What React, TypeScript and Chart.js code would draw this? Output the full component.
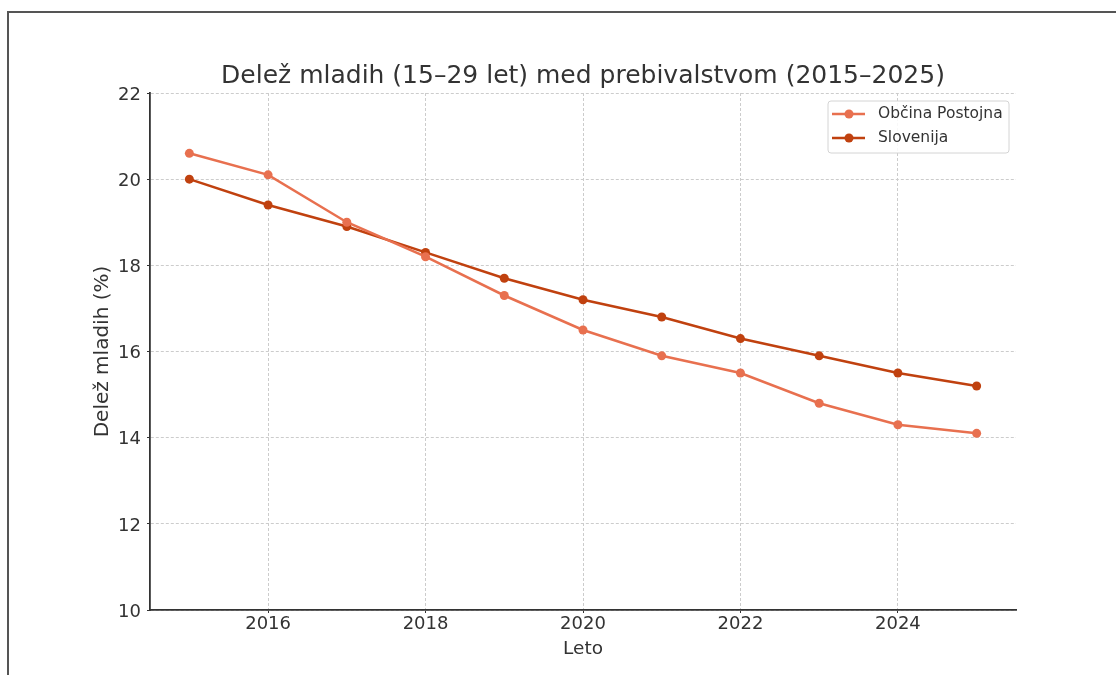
import React, { useEffect, useRef } from "react";
import { Chart, registerables } from "chart.js";

Chart.register(...registerables);

const years = [2015, 2016, 2017, 2018, 2019, 2020, 2021, 2022, 2023, 2024, 2025];
const postojna = [20.6, 20.1, 19.0, 18.2, 17.3, 16.5, 15.9, 15.5, 14.8, 14.3, 14.1];
const slovenija = [20.0, 19.4, 18.9, 18.3, 17.7, 17.2, 16.8, 16.3, 15.9, 15.5, 15.2];
const xTicks = [2016, 2018, 2020, 2022, 2024];
const seriesLabels = ["Občina Postojna", "Slovenija"];
const titleText = "Delež mladih (15–29 let) med prebivalstvom (2015–2025)";
const xTitle = "Leto";
const yTitle = "Delež mladih (%)";

const FONT = "'DejaVu Sans', sans-serif";
const C1 = "#e8704f";
const C2 = "#c0410f";

const titlePlugin = {
  id: "mplTitle",
  afterDraw(chart: any) {
    const { ctx, chartArea } = chart;
    ctx.save();
    ctx.fillStyle = "#333";
    ctx.font = `25px ${FONT}`;
    ctx.textAlign = "center";
    ctx.textBaseline = "middle";
    ctx.fillText(titleText, (chartArea.left + chartArea.right) / 2, chartArea.top - 17);
    ctx.restore();
  },
};

const legendPlugin = {
  id: "mplLegend",
  afterDraw(chart: any) {
    const { ctx, chartArea } = chart;
    const w = 181;
    const h = 52;
    const x = chartArea.right - 7 - w;
    const y = chartArea.top + 8;
    ctx.save();
    ctx.beginPath();
    const r = 3;
    ctx.moveTo(x + r, y);
    ctx.arcTo(x + w, y, x + w, y + h, r);
    ctx.arcTo(x + w, y + h, x, y + h, r);
    ctx.arcTo(x, y + h, x, y, r);
    ctx.arcTo(x, y, x + w, y, r);
    ctx.closePath();
    ctx.fillStyle = "rgba(255,255,255,0.85)";
    ctx.fill();
    ctx.strokeStyle = "#d4d4d4";
    ctx.lineWidth = 1;
    ctx.stroke();
    chart.data.datasets.forEach((ds: any, i: number) => {
      const cy = y + 13 + i * 24;
      ctx.strokeStyle = ds.borderColor;
      ctx.lineWidth = 2.5;
      ctx.beginPath();
      ctx.moveTo(x + 4, cy);
      ctx.lineTo(x + 37, cy);
      ctx.stroke();
      ctx.fillStyle = ds.backgroundColor;
      ctx.beginPath();
      ctx.arc(x + 21, cy, 4.5, 0, Math.PI * 2);
      ctx.fill();
      ctx.fillStyle = "#333";
      ctx.font = `15.5px ${FONT}`;
      ctx.textBaseline = "middle";
      ctx.textAlign = "left";
      ctx.fillText(ds.label, x + 50, cy);
    });
    ctx.restore();
  },
};

export default function App() {
  const ref = useRef<HTMLCanvasElement | null>(null);
  useEffect(() => {
    if (!ref.current) return;
    const mk = (vals: number[]) => years.map((yr, i) => ({ x: yr, y: vals[i] }));
    const ds = (label: string, vals: number[], color: string) => ({
      label,
      data: mk(vals),
      borderColor: color,
      backgroundColor: color,
      borderWidth: 2.5,
      pointRadius: 4.5,
      pointHoverRadius: 4.5,
      pointBorderWidth: 0,
    });
    const chart = new Chart(ref.current, {
      type: "line",
      data: {
        datasets: [ds(seriesLabels[0], postojna, C1), ds(seriesLabels[1], slovenija, C2)],
      },
      options: {
        responsive: false,
        animation: false,
        layout: { padding: { left: 0, right: 100, top: 93, bottom: 0 } },
        plugins: {
          legend: { display: false },
          tooltip: { enabled: false },
          title: { display: false },
        },
        scales: {
          x: {
            type: "linear",
            min: 2014.5,
            max: 2025.5,
            afterBuildTicks: (s: any) => {
              s.ticks = xTicks.map((v) => ({ value: v }));
            },
            afterFit: (s: any) => {
              s.height = 65;
            },
            ticks: {
              color: "#333",
              font: { family: FONT, size: 18 },
              padding: 1,
              maxRotation: 0,
              callback: (v: any) => String(v),
            },
            grid: {
              color: "#cccccc",
              tickColor: "#333",
              tickLength: 3,
            },
            border: { display: true, color: "#333", width: 1.8, dash: [3, 2] },
            title: {
              display: true,
              text: xTitle,
              color: "#333",
              font: { family: FONT, size: 18.5 },
              padding: { top: 0, bottom: 15 },
            },
          },
          y: {
            min: 10,
            max: 22,
            afterFit: (s: any) => {
              s.width = 150;
            },
            ticks: {
              stepSize: 2,
              color: "#333",
              font: { family: FONT, size: 18 },
              padding: 6,
              labelOffset: 2,
            },
            grid: {
              color: "#cccccc",
              tickColor: "#333",
              tickLength: 3,
            },
            border: { display: true, color: "#333", width: 1.8, dash: [3, 2] },
            title: {
              display: true,
              text: yTitle,
              color: "#333",
              font: { family: FONT, size: 20 },
              padding: { top: 91, bottom: 0 },
            },
          },
        },
      } as any,
      plugins: [titlePlugin, legendPlugin],
    });
    return () => chart.destroy();
  }, []);

  return (
    <div style={{ position: "fixed", left: 0, top: 0, width: 1116, height: 675, background: "#fff" }}>
      <div
        style={{
          position: "absolute",
          left: 7,
          top: 11,
          right: -5,
          bottom: -5,
          borderTop: "2px solid #555",
          borderLeft: "2px solid #555",
        }}
      />
      <canvas ref={ref} width={1116} height={675} style={{ position: "absolute", left: 0, top: 0 }} />
    </div>
  );
}
